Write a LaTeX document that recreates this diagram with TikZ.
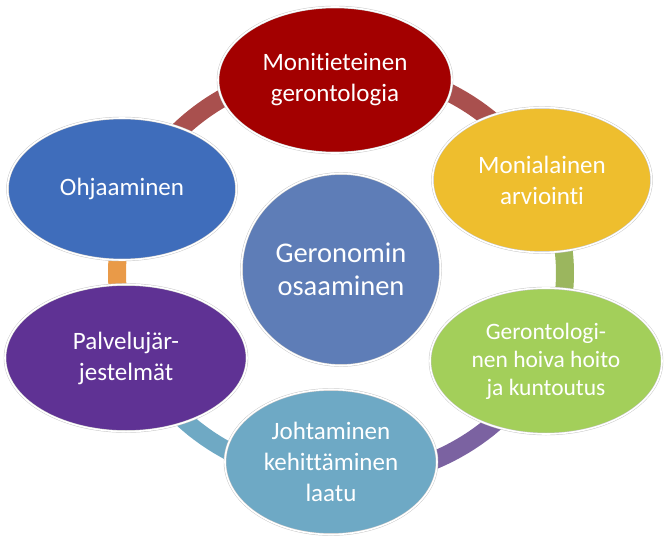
\documentclass[tikz,border=0pt]{standalone}
\usepackage{fontspec}
\setmainfont{Carlito}[Ligatures=CommonOff]
\usetikzlibrary{shapes.geometric}
\definecolor{cRed}{HTML}{A30000}
\definecolor{cYellow}{HTML}{EEBE2E}
\definecolor{cGreen}{HTML}{A3CF5A}
\definecolor{cLblue}{HTML}{6EA9C5}
\definecolor{cPurple}{HTML}{5F3294}
\definecolor{cBlue}{HTML}{3F6DBB}
\definecolor{cCenter}{HTML}{5E7DB7}
\definecolor{rRed}{HTML}{A9504E}
\definecolor{rGreen}{HTML}{9BB65E}
\definecolor{rPurple}{HTML}{7B62A1}
\definecolor{rLblue}{HTML}{6FA9C4}
\definecolor{rOrange}{HTML}{E99A48}
\begin{document}
\begin{tikzpicture}[x=1pt,y=-1pt,
  blob/.style={ellipse, inner sep=0pt, draw=black!22, double=white, double distance=1.6pt, line width=0.45pt, text=white, align=center, font=\fontsize{25}{31}\selectfont},
  ringseg/.style={line width=18pt}]
\useasboundingbox (0,0) rectangle (665,538);
\coordinate (rc) at (341,273);
% ring segments
\draw[ringseg, rRed] (rc) ++(205:224 and 206) arc[start angle=205, end angle=335, x radius=224, y radius=206];
\draw[ringseg, rGreen] (rc) ++(-25:224 and 206) arc[start angle=-25, end angle=25, x radius=224, y radius=206];
\draw[ringseg, rPurple] (rc) ++(25:224 and 206) arc[start angle=25, end angle=90, x radius=224, y radius=206];
\draw[ringseg, rLblue] (rc) ++(90:224 and 206) arc[start angle=90, end angle=155, x radius=224, y radius=206];
\draw[ringseg, rOrange] (rc) ++(155:224 and 206) arc[start angle=155, end angle=205, x radius=224, y radius=206];
% nodes
\node[blob, fill=cCenter, minimum width=199pt, minimum height=192pt, font=\fontsize{28.5}{33}\selectfont] (center) at (341,269.5) {Geronomin\\osaaminen};
\node[blob, fill=cRed, minimum width=234pt, minimum height=146pt] (top) at (335,80) {Monitieteinen\\gerontologia};
\node[blob, fill=cYellow, minimum width=219pt, minimum height=145pt] (yellow) at (542,180) {Monialainen\\arviointi};
\node[blob, fill=cGreen, minimum width=232pt, minimum height=146pt, font=\fontsize{23.5}{28}\selectfont] (green) at (546,361) {Gerontologi-\\nen hoiva hoito\\ja kuntoutus};
\node[blob, fill=cLblue, minimum width=212pt, minimum height=145pt] (lblue) at (331,462) {Johtaminen\\kehittäminen\\laatu};
\node[blob, fill=cPurple, minimum width=242pt, minimum height=147pt] (purple) at (126,358) {Palvelujär-\\jestelmät};
\node[blob, fill=cBlue, minimum width=229pt, minimum height=142pt] (blue) at (122,189) {Ohjaaminen};
\end{tikzpicture}
\end{document}
